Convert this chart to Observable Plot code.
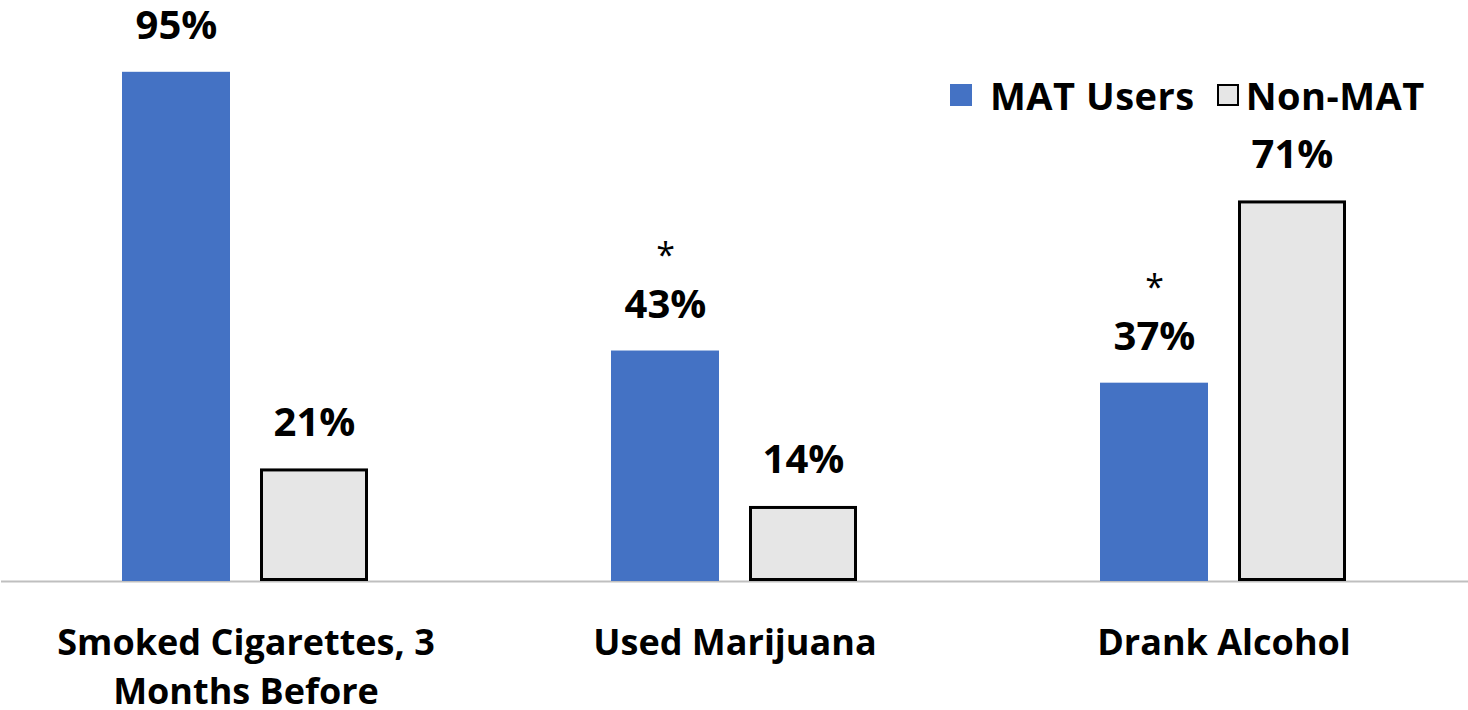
<!DOCTYPE html>
<html><head><meta charset="utf-8">
<script src="https://cdn.jsdelivr.net/npm/d3@7"></script>
<script src="https://cdn.jsdelivr.net/npm/@observablehq/plot@0.6"></script>
<style>
body{margin:0;background:#fff;font-family:"Open Sans",sans-serif;}
#wrap{position:relative;width:1468px;height:710px;}
#legend{position:absolute;left:950px;top:72px;display:flex;align-items:center;font-weight:bold;font-size:38px;letter-spacing:0.5px;color:#000;line-height:46px;}
.sw{width:22px;height:22px;display:inline-block;box-sizing:border-box;}
</style></head><body>
<div id="wrap"><div id="legend"></div></div>
<script>
const categories = ["Smoked Cigarettes, 3 Months Before", "Used Marijuana", "Drank Alcohol"];
const tickLabels = ["Smoked Cigarettes, 3\nMonths Before", "Used Marijuana", "Drank Alcohol"];
const series = ["MAT Users", "Non-MAT"];
const matValues = [95, 43, 37];
const nonMatValues = [21, 14, 71];
const significance = ["", "*", "*"];
const colors = ["#4472C4", "#E6E6E6"];

const data = [];
categories.forEach((c, i) => {
  data.push({category: c, series: series[0], value: matValues[i], note: significance[i]});
  data.push({category: c, series: series[1], value: nonMatValues[i], note: ""});
});
const mat = data.filter(d => d.series === series[0]);
const non = data.filter(d => d.series === series[1]);

const chart = Plot.plot({
  width: 1468,
  height: 710,
  marginLeft: 0, marginRight: 0, marginTop: 45, marginBottom: 129,
  style: {fontFamily: "'Open Sans', sans-serif", background: "#fff", color: "#000"},
  fx: {domain: categories, padding: 0, axis: null},
  x: {domain: series, paddingInner: 0.216, paddingOuter: 0.87, axis: null},
  y: {domain: [0, 100], axis: null},
  color: {domain: series, range: colors},
  marks: [
    Plot.ruleY([0], {stroke: "#BFBFBF", strokeWidth: 2}),
    Plot.barY(mat, {fx: "category", x: "series", y: "value", fill: "series"}),
    Plot.barY(non, {fx: "category", x: "series", y: "value", fill: "series", stroke: "#000", strokeWidth: 3, inset: 1.5}),
    Plot.text(data, {fx: "category", x: "series", y: "value", text: d => d.value + "%", lineAnchor: "middle", dy: -46, fontSize: 40, fontWeight: "bold", fill: "#000"}),
    Plot.text(mat, {fx: "category", x: "series", y: "value", text: "note", lineAnchor: "middle", dy: -95, fontSize: 34, fill: "#000"}),
    Plot.axisFx({anchor: "bottom", tickSize: 0, tickPadding: 38, label: null, fontSize: 36, fontWeight: "bold", lineHeight: 1.38, tickFormat: d => tickLabels[categories.indexOf(d)]})
  ]
});
const wrap = document.getElementById("wrap");
wrap.insertBefore(chart, wrap.firstChild);

const legend = document.getElementById("legend");
series.forEach((s, i) => {
  const sw = document.createElement("span");
  sw.className = "sw";
  sw.style.background = colors[i];
  if (i === 1) { sw.style.border = "2.5px solid #000"; sw.style.marginLeft = "22px"; sw.style.marginRight = "7px"; }
  else { sw.style.marginRight = "18px"; }
  const t = document.createElement("span");
  t.textContent = s;
  legend.appendChild(sw);
  legend.appendChild(t);
});
</script>
</body></html>
